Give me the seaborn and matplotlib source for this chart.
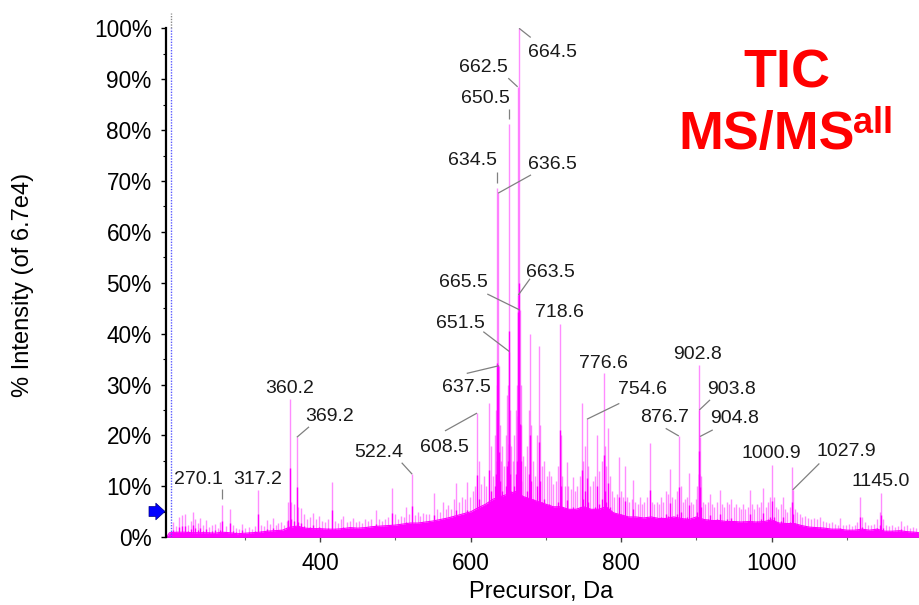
import matplotlib
matplotlib.use("Agg")
import matplotlib.pyplot as plt
import matplotlib.transforms as mtransforms
import seaborn as sns
import pandas as pd

# ---------------- data ----------------
labeled_mz = [270.1, 317.2, 360.2, 369.2, 522.4, 608.5, 634.5, 636.5, 637.5,
              650.5, 651.5, 662.5, 663.5, 664.5, 665.5, 718.6, 754.6, 776.6,
              876.7, 902.8, 903.8, 904.8, 1000.9, 1027.9, 1145.0]
labeled_pct = [6.3, 9.3, 27.2, 19.65, 12.4, 24.4, 68.6, 67.6, 33.7,
               81.2, 36.5, 88.5, 47.6, 100.0, 44.65, 42.0, 23.2, 32.3,
               19.9, 33.85, 25.0, 19.8, 14.2, 9.3, 8.76]

other_mz = [205, 209, 213, 216, 220, 224, 228, 231, 234, 238, 240, 245, 248, 252,
            256, 260, 264, 267, 275, 280, 284, 288, 292, 297, 301, 305, 309, 313,
            322, 326, 330, 334, 337, 341, 344, 348, 352, 356, 358, 362, 365, 371,
            375, 379, 383, 387, 391, 394, 398, 403, 407, 411, 416, 420, 424, 428,
            431, 436, 440, 444, 448, 452, 456, 460, 464, 468, 474, 478, 482, 486,
            490, 495, 499, 503, 507, 511, 514, 518, 526, 530, 533, 537, 541, 545,
            551, 555, 559, 563, 567, 570, 574, 578, 581, 585, 588, 592, 595, 599,
            603, 606, 611, 614, 618, 621, 624.8, 627, 630, 632, 633.5, 635.5, 638.5,
            640, 642, 645, 647, 648.5, 649.5, 652.5, 654, 656, 658, 660, 661.5,
            666.5, 667.5, 670, 672, 675, 677, 679, 680, 683, 686, 688, 690.7, 692,
            695, 698, 701, 704, 707, 710, 713, 716, 720, 722, 725, 727.5, 730, 733,
            736, 739, 742, 745, 747.4, 750, 752, 756, 759, 762, 765, 768.5, 771,
            774, 778, 780, 782.8, 785, 788, 791, 794, 797, 800, 803, 805, 808, 811,
            814, 816, 819, 822, 825, 828, 831, 834, 838, 841, 844, 847, 850, 853,
            856, 859, 862, 864.6, 868, 871, 874, 879, 882, 885, 888, 890, 893, 896,
            899, 901, 906, 909, 912, 915, 918, 921, 924, 927, 931, 934, 937, 940,
            943, 946, 950, 953, 956, 959, 962, 965, 968, 971, 974, 977, 980, 983,
            986, 988, 992, 995, 998, 1003, 1006, 1009, 1012, 1015, 1018, 1021, 1024,
            1027.0, 1031, 1034, 1037, 1040, 1044, 1048, 1052, 1056, 1060, 1064,
            1068, 1072, 1076, 1080, 1084, 1088, 1091, 1095, 1099, 1103, 1107, 1111,
            1114, 1117.6, 1120, 1124, 1128, 1132, 1136, 1140, 1144, 1148, 1152,
            1156, 1160, 1164, 1168, 1172, 1176, 1180, 1184, 1188, 1192]
other_pct = [3.0, 2.2, 4.0, 4.3, 4.6, 2.5, 3.2, 5.0, 3.5, 2.8, 3.7, 2.4, 3.4, 2.0,
             2.5, 2.7, 1.8, 3.0, 2.2, 5.6, 2.4, 1.9, 1.6, 2.7, 1.8, 2.0, 1.7, 2.3,
             2.5, 2.2, 3.4, 2.6, 3.7, 2.5, 2.8, 3.0, 2.4, 3.2, 6.9, 7.0, 6.5, 6.0,
             5.7, 4.5, 3.5, 4.0, 4.7, 3.6, 4.2, 3.2, 3.0, 3.5, 10.9, 3.2, 2.9, 3.5,
             4.1, 3.0, 3.3, 3.8, 3.0, 3.2, 2.8, 3.5, 3.3, 3.6, 5.4, 3.5, 3.2, 3.6,
             4.0, 9.6, 4.5, 3.6, 4.2, 4.0, 6.0, 4.5, 4.4, 5.0, 4.2, 4.8, 4.5, 4.5,
             8.8, 5.5, 5.0, 7.0, 5.5, 6.3, 5.6, 7.5, 10.6, 7.0, 8.0, 7.5, 10.9, 8.0,
             9.0, 10.0, 15.0, 10.5, 12.0, 10.0, 26.3, 18.0, 12.0, 20.0, 25.0, 30.0, 22.0,
             15.0, 18.0, 14.0, 20.0, 28.0, 30.0, 25.0, 18.0, 15.0, 20.0, 25.0, 30.0,
             30.0, 22.0, 16.0, 14.0, 18.0, 25.0, 40.0, 22.0, 15.0, 12.0, 20.0, 37.6, 22.0,
             14.0, 15.0, 12.0, 13.0, 12.0, 10.5, 11.0, 14.0, 20.0, 12.0, 10.0, 14.8, 10.0, 9.5,
             11.8, 9.0, 10.0, 12.0, 26.4, 15.0, 18.0, 14.0, 10.0, 11.0, 12.0, 20.0, 13.0,
             15.0, 18.0, 14.0, 21.4, 12.0, 9.0, 8.0, 8.5, 15.8, 9.0, 8.0, 14.1, 8.0, 7.0,
             7.5, 11.2, 7.0, 6.5, 8.0, 6.5, 7.0, 8.0, 18.5, 7.0, 6.5, 7.0, 6.5, 8.0,
             7.0, 9.0, 8.5, 13.5, 8.0, 7.5, 9.0, 10.0, 7.0, 7.5, 8.0, 12.6, 7.0, 6.5,
             7.5, 10.0, 12.0, 7.0, 6.5, 7.0, 8.6, 6.5, 6.0, 7.0, 9.2, 6.5, 6.0, 7.0,
             6.5, 7.5, 6.0, 6.5, 6.0, 5.5, 6.5, 5.5, 6.0, 9.2, 6.5, 5.5, 6.5, 6.0,
             7.0, 9.6, 6.0, 7.0, 8.0, 8.0, 6.0, 5.5, 6.5, 7.9, 5.5, 5.0, 6.0,
             13.8, 5.5, 5.0, 4.5, 4.0, 4.2, 3.8, 3.5, 3.8, 3.5, 4.0,
             3.2, 3.0, 2.8, 3.0, 2.6, 2.5, 3.7, 2.5, 2.4, 2.7, 2.3, 2.5,
             3.0, 7.9, 4.0, 3.0, 2.5, 2.4, 2.6, 3.5, 5.0, 3.5, 2.5,
             2.2, 2.4, 2.0, 2.3, 3.3, 2.2, 2.5, 1.9, 2.0, 1.8]

base_mz = [196, 200, 210, 220, 230, 240, 250, 260, 270, 280, 290, 300, 310, 320, 330,
           340, 350, 360, 370, 380, 390, 400, 410, 420, 430, 440, 450, 460, 470,
           480, 490, 500, 510, 520, 530, 540, 550, 560, 570, 580, 590, 600, 610,
           620, 630, 640, 650, 660, 670, 680, 690, 700, 710, 720, 730, 740, 750,
           760, 770, 780, 790, 800, 810, 820, 830, 840, 850, 860, 870, 880, 890,
           900, 910, 920, 930, 940, 950, 960, 970, 980, 990, 1000, 1010, 1020,
           1030, 1040, 1050, 1060, 1070, 1080, 1090, 1100, 1110, 1120, 1130, 1140,
           1150, 1160, 1170, 1180, 1190, 1196]
base_pct = [0.0, 0.9, 1.0, 1.0, 0.9, 0.9, 0.9, 0.8, 1.0, 0.9, 0.7, 0.8, 0.9, 1.0, 1.2,
            1.3, 1.4, 2.0, 2.2, 1.8, 1.7, 1.7, 1.6, 1.6, 1.7, 1.9, 1.8, 1.9, 2.1,
            2.2, 2.3, 2.4, 2.6, 2.8, 2.8, 3.0, 3.2, 3.5, 3.8, 4.2, 4.6, 5.0, 5.8,
            6.5, 7.5, 8.0, 8.5, 9.0, 8.0, 7.5, 7.0, 6.5, 6.0, 6.0, 5.5, 5.5, 6.0,
            5.5, 5.5, 6.0, 4.8, 4.4, 4.0, 4.0, 3.8, 4.0, 3.7, 3.7, 4.0, 3.7, 3.5,
            4.0, 3.5, 3.3, 3.3, 3.1, 3.1, 3.0, 3.1, 3.0, 3.1, 3.4, 2.8, 2.7,
            2.7, 2.3, 2.0, 1.9, 1.8, 1.6, 1.6, 1.4, 1.4, 1.6, 1.4, 1.6,
            1.2, 1.2, 1.3, 1.1, 1.0, 0.9]

x_ticks = [400, 600, 800, 1000]
x_minor = [300, 500, 700, 900, 1100]
y_ticks = [0, 10, 20, 30, 40, 50, 60, 70, 80, 90, 100]
y_tick_labels = [f"{v}%" for v in y_ticks]
y_minor = [5, 15, 25, 35, 45, 55, 65, 75, 85, 95]

# label layout: text centre (mz, pct) and optional leader start (mz, pct, gap above peak)
label_layout = {
    "270.1": ((239.0, 11.9), (270.1, 9.5, 1.2)),
    "317.2": ((317.0, 11.9), None),
    "360.2": ((360.1, 29.7), None),
    "369.2": ((413.0, 24.2), (385.4, 21.7, 0.0)),
    "522.4": ((477.4, 17.15), (508.5, 14.65, 0.0)),
    "608.5": ((564.7, 18.1), (566.0, 20.9, 0.0)),
    "634.5": ((602.6, 74.5), (634.5, 71.7, 1.1)),
    "636.5": ((708.9, 73.8), (680.3, 71.2, 0.0)),
    "637.5": ((594.9, 29.9), (594.9, 32.2, 0.0)),
    "650.5": ((620.3, 86.6), (650.5, 84.1, 0.9)),
    "651.5": ((586.0, 42.4), (616.9, 40.4, 0.0)),
    "662.5": ((617.6, 92.8), (650.1, 90.2, 0.0)),
    "663.5": ((706.6, 52.5), (679.0, 50.8, 0.0)),
    "664.5": ((708.9, 95.7), (679.9, 98.2, 0.0)),
    "665.5": ((590.4, 50.5), (622.2, 47.8, 0.0)),
    "718.6": ((718.4, 44.6), None),
    "754.6": ((828.4, 29.5), (797.6, 26.3, 0.0)),
    "776.6": ((775.9, 34.7), None),
    "876.7": ((858.3, 24.0), (859.2, 21.4, 0.0)),
    "902.8": ((901.9, 36.3), None),
    "903.8": ((946.6, 29.5), (918.1, 27.0, 0.0)),
    "904.8": ((950.6, 23.8), (921.7, 21.1, 0.0)),
    "1000.9": ((1000.0, 17.0), None),
    "1027.9": ((1099.8, 17.3), (1063.3, 14.5, 0.0)),
    "1145.0": ((1144.6, 11.45), None),
}

# ---------------- style ----------------
sns.set_theme(style="ticks")
plt.rcParams["font.family"] = ["Liberation Sans", "DejaVu Sans"]

MAGENTA = "#ff00ff"
W, H = 919, 605
fig = plt.figure(figsize=(W / 100, H / 100), dpi=100)
ax = fig.add_axes([166 / W, (H - 537.3) / H, 753 / W, 509 / H])

peaks = pd.DataFrame({"mz": other_mz + labeled_mz, "pct": other_pct + labeled_pct})
base = pd.DataFrame({"mz": base_mz, "pct": base_pct})

# dense baseline
ax.fill_between(base["mz"], 0, base["pct"], color=MAGENTA, lw=0, zorder=2)
sns.lineplot(data=base, x="mz", y="pct", ax=ax, color=MAGENTA, lw=0.8, zorder=2)
# sticks: faint full-height apex + solid lower core
ax.vlines(peaks["mz"], 0, peaks["pct"], color=MAGENTA, alpha=0.45, lw=1.0, zorder=3)
ax.vlines(peaks["mz"], 0, peaks["pct"] * 0.5, color=MAGENTA, lw=1.0, zorder=3)

# cursor line and arrow
ax.axvline(202.2, ymin=0, ymax=1.0, color="#5a5aff", ls=(0, (1, 1)), lw=1.0, zorder=4)
ax.plot([202.2, 202.2], [100, 103.1], color="#888888", ls=(0, (1, 1)), lw=1.0,
        clip_on=False, zorder=4)
ax.annotate("", xy=(165, H - 511.5), xycoords="figure pixels",
            xytext=(149, H - 511.5), textcoords="figure pixels",
            arrowprops=dict(arrowstyle="simple,head_length=0.55,head_width=1.0,tail_width=0.6",
                            color="#0000ff", ec="#000080", lw=0.5, mutation_scale=12,
                            shrinkA=0, shrinkB=0))

# labels
peak_lookup = dict(zip([f"{m:.1f}" for m in labeled_mz], zip(labeled_mz, labeled_pct)))
lab_fs = 14
text_tr = mtransforms.offset_copy(ax.transData, fig=fig, y=-0.358 * lab_fs, units="points")
for lab, (tpos, leader) in label_layout.items():
    pmz, ppct = peak_lookup[lab]
    ax.text(tpos[0], tpos[1], lab, transform=text_tr, ha="center", va="baseline",
            fontsize=lab_fs, color="#1a1a1a", zorder=5)
    if leader is not None:
        ax.plot([leader[0], pmz], [leader[1], ppct + leader[2]], color="#808080",
                lw=0.9, zorder=5, solid_capstyle="butt")

# axes
ax.set_xlim(195.4, 1195.7)
ax.set_ylim(0, 100)
ax.set_xticks(x_ticks)
ax.set_xticklabels([str(v) for v in x_ticks])
ax.set_xticks(x_minor, minor=True)
ax.set_yticks(y_ticks)
ax.set_yticklabels(y_tick_labels)
ax.set_yticks(y_minor, minor=True)
ax.set_xlabel("")
ax.set_ylabel("")
for s in ["top", "right"]:
    ax.spines[s].set_visible(False)
ax.spines["left"].set_color("black")
ax.spines["left"].set_linewidth(1.6)
ax.spines["bottom"].set_color("#666666")
ax.spines["bottom"].set_linewidth(1.4)
ax.spines["bottom"].set_zorder(1)
ax.tick_params(axis="y", which="major", length=3.8, width=1.0, pad=6.5,
               labelsize=16.3, color="black", labelcolor="black")
ax.tick_params(axis="y", which="minor", length=2.2, width=0.8, color="black")
ax.tick_params(axis="x", which="major", length=3.5, width=1.0, pad=7.0,
               labelsize=16.3, color="#444444", labelcolor="black")
ax.tick_params(axis="x", which="minor", length=2.2, width=0.8, color="#666666")
ax.set_facecolor("white")

fig.text(23 / W, 1 - 284.5 / H, "% Intensity (of 6.7e4)", rotation=90,
         ha="center", va="center", fontsize=17, color="black")
fig.text(541.5 / W, 1 - 597.7 / H, "Precursor, Da", ha="center", va="baseline",
         fontsize=17, color="black")

fig.text(786.7 / W, 1 - 87.3 / H, "TIC", ha="center", va="baseline", fontsize=38.8,
         fontweight="bold", color="#ff0000")
fig.text(678.8 / W, 1 - 149.5 / H, "MS/MS", ha="left", va="baseline", fontsize=38.8,
         fontweight="bold", color="#ff0000")
fig.text(853.5 / W, 1 - 132.7 / H, "all", ha="left", va="baseline", fontsize=26,
         fontweight="bold", color="#ff0000")

fig.savefig("out.png", dpi=100, facecolor="white")
